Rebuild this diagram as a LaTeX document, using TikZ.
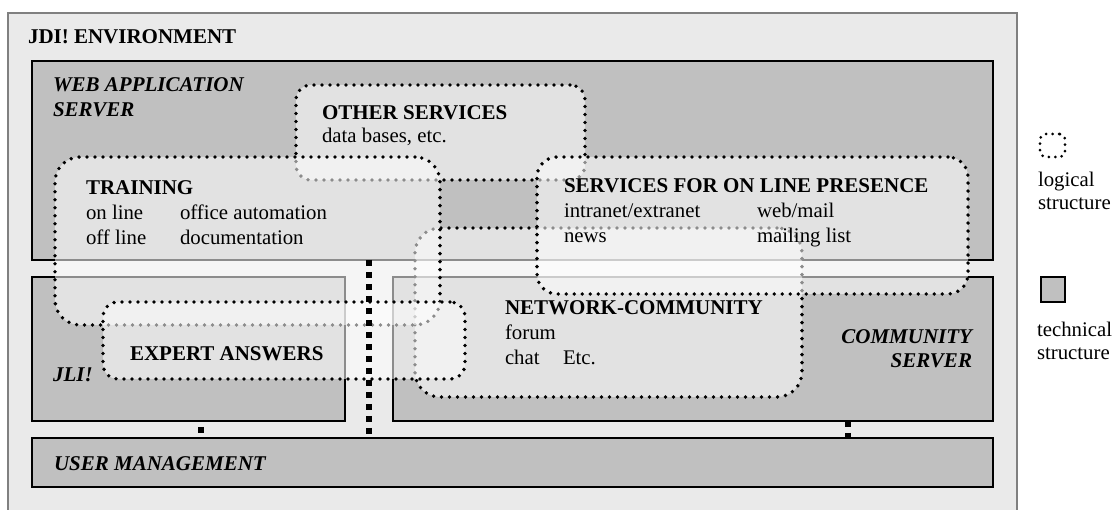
\documentclass[tikz,border=0pt]{standalone}
\usepackage{fontspec}
\setmainfont{Liberation Serif}
\definecolor{framegray}{HTML}{EAEAEA}
\definecolor{framedraw}{HTML}{808080}
\definecolor{techgray}{HTML}{C0C0C0}
\begin{document}
\begin{tikzpicture}[x=1pt,y=-1pt,
  every node/.style={inner sep=0pt, outer sep=0pt},
  outerframe/.style={draw=framedraw, line width=1.5pt, fill=framegray, anchor=north west},
  techbox/.style={draw=black, line width=2pt, fill=techgray, anchor=north west},
  logic/.style={draw=black, fill=white, fill opacity=0.55, draw opacity=1, line width=3.8pt,
    dash pattern=on 0pt off 8pt, line cap=round, anchor=north west},
  conn/.style={line width=5.5pt, dash pattern=on 6pt off 6pt},
  head/.style={font=\fontsize{21}{25}\selectfont\bfseries, anchor=base west},
  body/.style={font=\fontsize{20.8}{25}\selectfont, anchor=base west},
  tech/.style={font=\fontsize{21}{25}\selectfont\bfseries\itshape, anchor=base west},
]
\clip (0,0) rectangle (1114,510);
\fill[white] (0,0) rectangle (1114,510);
% outer frame
\node[outerframe, minimum width=1009pt, minimum height=510pt] (env) at (8,13) {};
% technical structure
\node[techbox, minimum width=961pt, minimum height=199pt] (web) at (32,61) {};
\node[techbox, minimum width=313pt, minimum height=144pt] (jli) at (32,277) {};
\node[techbox, minimum width=600pt, minimum height=144pt] (comm) at (393,277) {};
\node[techbox, minimum width=961pt, minimum height=49pt] (um) at (32,438) {};
% logical structure
\node[logic, rounded corners=15pt, minimum width=289pt, minimum height=95pt] (other) at (296,85) {};
\node[logic, rounded corners=25pt, minimum width=387pt, minimum height=169pt] (net) at (415,228) {};
\node[logic, rounded corners=25pt, minimum width=385pt, minimum height=168pt] (train) at (55,157) {};
\node[logic, rounded corners=20pt, minimum width=431pt, minimum height=137pt] (online) at (537,157) {};
\node[logic, rounded corners=15pt, minimum width=362pt, minimum height=77pt] (expert) at (103,302) {};
% connectors
\draw[conn] ([xshift=337pt]web.south west) -- ([xshift=337pt]um.north west);
\draw[conn, dash phase=6pt] ([xshift=169pt]jli.south west) -- ([xshift=169pt]um.north west);
\draw[conn] ([xshift=455pt]comm.south west) -- ([xshift=816pt]um.north west);
% texts
\node[head] (tenv) at (28,44) {JDI! ENVIRONMENT};
\node[tech] (tweb1) at (53,92) {WEB APPLICATION};
\node[tech] (tweb2) at (53,117) {SERVER};
\node[head] (toth) at (322,120) {OTHER SERVICES};
\node[body] (toth2) at (322,143) {data bases, etc.};
\node[head] (ttr) at (86,195) {TRAINING};
\node[body] (ttr1) at (86,220) {on line};
\node[body] (ttr2) at (180,220) {office automation};
\node[body] (ttr3) at (86,245) {off line};
\node[body] (ttr4) at (180,245) {documentation};
\node[head] (ton) at (564,193) {SERVICES FOR ON LINE PRESENCE};
\node[body] (ton1) at (564,218) {intranet/extranet};
\node[body] (ton2) at (757,218) {web/mail};
\node[body] (ton3) at (564,243) {news};
\node[body] (ton4) at (757,243) {mailing list};
\node[head] (tnet) at (505,315) {NETWORK-COMMUNITY};
\node[body] (tnet1) at (505,340) {forum};
\node[body] (tnet2) at (505,365) {chat};
\node[body] (tnet3) at (563,365) {Etc.};
\node[head] (texp) at (130,361) {EXPERT ANSWERS};
\node[tech] (tjli) at (53,382) {JLI!};
\node[tech, anchor=base east] (tcom1) at (972,344) {COMMUNITY};
\node[tech, anchor=base east] (tcom2) at (972,368) {SERVER};
\node[tech] (tum) at (54,470) {USER MANAGEMENT};
% legend
\node[draw=black, line width=3pt, dash pattern=on 0pt off 6.5pt, line cap=round,
  rounded corners=6pt, minimum width=25pt, minimum height=23pt, anchor=north west] (leglog) at (1040,134) {};
\node[body] (leglog1) at (1038,187) {logical};
\node[body] (leglog2) at (1038,210) {structure};
\node[draw=black, line width=1.8pt, fill=techgray, minimum width=24pt, minimum height=25pt, anchor=north west] (legtech) at (1041,277) {};
\node[body] (legtech1) at (1037,337) {technical};
\node[body] (legtech2) at (1037,360) {structure};
\end{tikzpicture}
\end{document}
